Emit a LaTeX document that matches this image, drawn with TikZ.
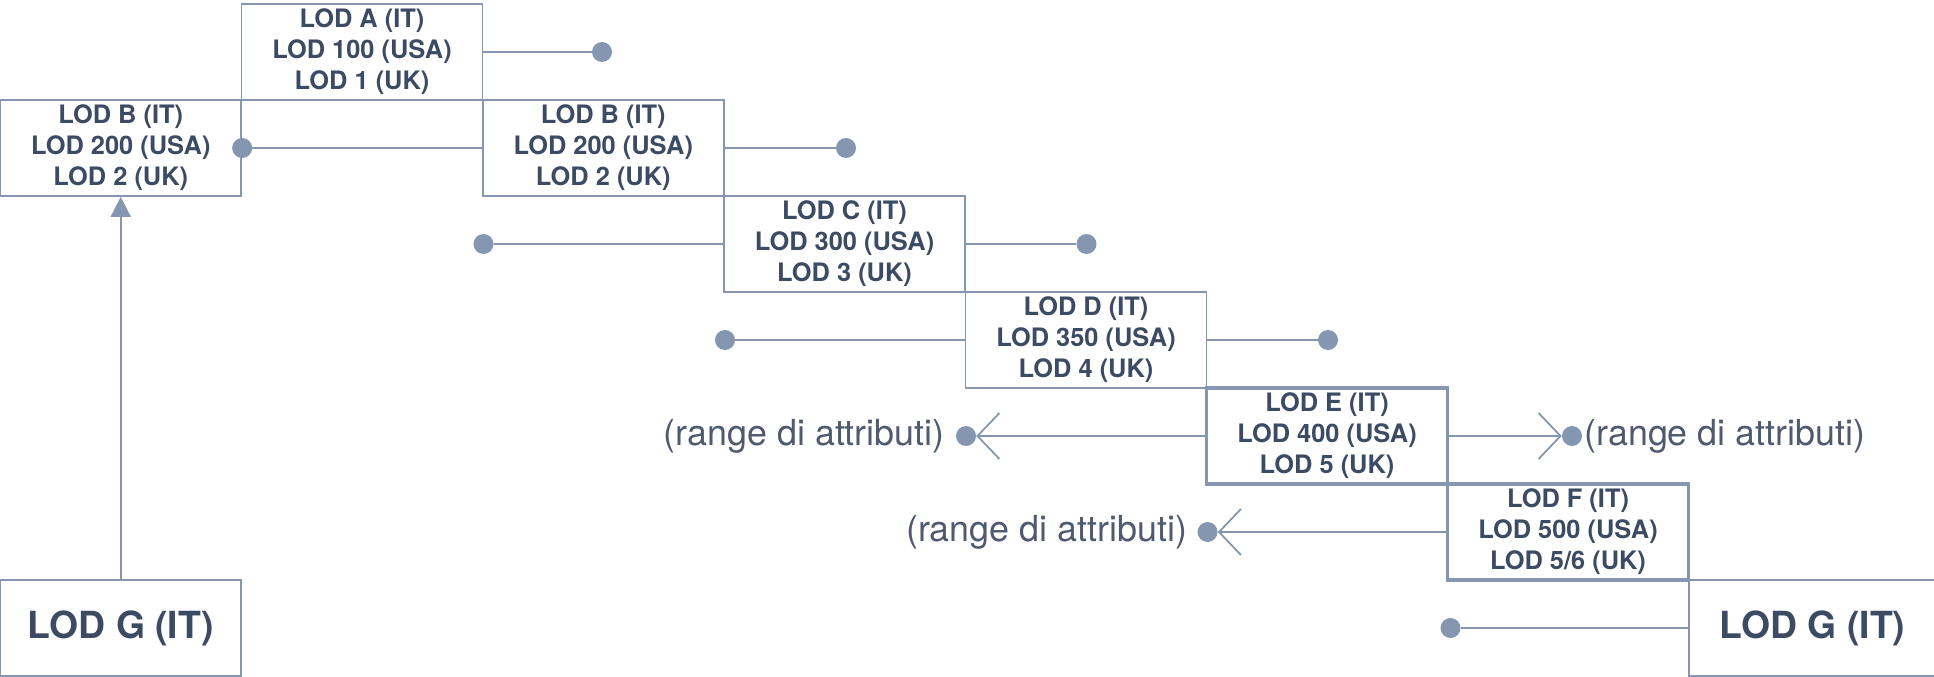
\documentclass[tikz,border=0pt]{standalone}
\usepackage{fontspec}
\setmainfont{TeX Gyre Heros}
\usetikzlibrary{arrows.meta}
\definecolor{linec}{HTML}{8596B0}
\definecolor{textc}{HTML}{3C4B64}
\definecolor{rangec}{HTML}{4F5A6E}
\begin{document}
\begin{tikzpicture}[x=1bp,y=-1bp,
  lodbox/.style={draw=linec, line width=1.8bp, minimum width=241bp, minimum height=96bp,
    inner sep=0pt, align=center, text=textc,
    font=\fontsize{25.5}{31}\selectfont\bfseries},
  thickbox/.style={lodbox, line width=3.6bp},
  gbox/.style={lodbox, font=\fontsize{37.5}{40}\selectfont\bfseries},
  dot/.style={circle, fill=linec, draw=none, minimum size=20bp, inner sep=0pt},
  conn/.style={draw=linec, line width=1.8bp},
  barb/.style={conn, -{Straight Barb[length=22bp, width=46bp, line width=1.8bp]}},
  rangetxt/.style={inner sep=0pt, text=rangec, font=\fontsize{36}{40}\selectfont}
]
\useasboundingbox (0,0) rectangle (1934,677);

% boxes
\node[lodbox] (A)  at (362,52)    {LOD A (IT)\\LOD 100 (USA)\\LOD 1 (UK)};
\node[lodbox] (Bl) at (120.75,148) {LOD B (IT)\\LOD 200 (USA)\\LOD 2 (UK)};
\node[lodbox] (Br) at (603.25,148) {LOD B (IT)\\LOD 200 (USA)\\LOD 2 (UK)};
\node[lodbox] (C)  at (844.5,244) {LOD C (IT)\\LOD 300 (USA)\\LOD 3 (UK)};
\node[lodbox] (D)  at (1086,340)  {LOD D (IT)\\LOD 350 (USA)\\LOD 4 (UK)};
\node[thickbox] (E) at (1327,436) {LOD E (IT)\\LOD 400 (USA)\\LOD 5 (UK)};
\node[thickbox] (F) at (1568,532) {LOD F (IT)\\LOD 500 (USA)\\LOD 5/6 (UK)};
\node[gbox] (Gl) at (120.75,628) {LOD G (IT)};
\node[gbox, minimum width=247bp] (Gr) at (1812.5,628) {LOD G (IT)};

% dots
\node[dot] (dA)  at (602,52) {};
\node[dot] (dBl) at (Bl.east) {};
\node[dot] (dBr) at (846,148) {};
\node[dot] (dCl) at (483.5,244) {};
\node[dot] (dCr) at (1086.5,244) {};
\node[dot] (dDl) at (725,340) {};
\node[dot] (dDr) at (1328,340) {};
\node[dot] (dEl) at (966,436) {};
\node[dot] (dEr) at (1572,436) {};
\node[dot] (dFl) at (1207.5,532) {};
\node[dot] (dGr) at (1450.5,628) {};

% connectors
\draw[conn] (A.east) -- (dA);
\draw[conn] (dBl) -- (Br.west);
\draw[conn] (Br.east) -- (dBr);
\draw[conn] (dCl) -- (C.west);
\draw[conn] (C.east) -- (dCr);
\draw[conn] (dDl) -- (D.west);
\draw[conn] (D.east) -- (dDr);
\draw[barb] (E.west) -- (dEl);
\draw[barb] (E.east) -- (dEr);
\draw[barb] (F.west) -- (dFl);
\draw[conn] (dGr) -- (Gr.west);
\draw[conn, -{Triangle[length=20bp, width=20bp]}] (Gl.north) -- (Bl.south);

% range labels
\node[rangetxt, anchor=east] (rEl) at ([xshift=-11bp]dEl.west) {(range di attributi)};
\node[rangetxt, anchor=west] (rEr) at ([xshift=2bp]dEr.east) {(range di attributi)};
\node[rangetxt, anchor=east] (rFl) at ([xshift=-10bp]dFl.west) {(range di attributi)};
\end{tikzpicture}
\end{document}
